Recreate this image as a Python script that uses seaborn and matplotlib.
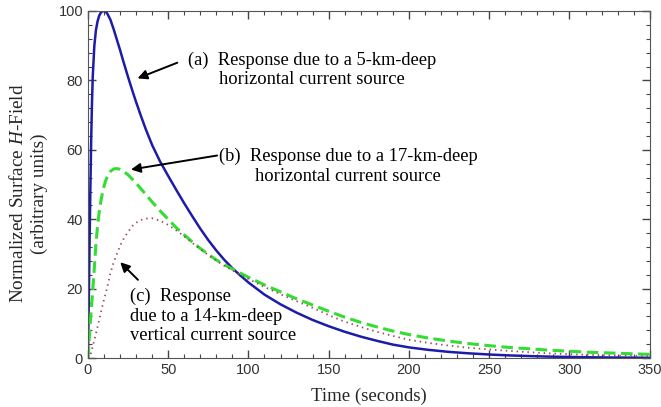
import numpy as np
import pandas as pd
import matplotlib
matplotlib.use("Agg")
import matplotlib.pyplot as plt
from matplotlib.ticker import MultipleLocator
import seaborn as sns

# values (time in seconds)
time_s = [0, 0.5, 1, 1.5, 2, 2.5, 3,
          4, 5, 6, 7, 8, 9, 10, 11, 12,
          14, 16, 18, 20, 22,
          25, 28, 30, 33, 36, 40,
          45, 50, 55, 60, 65, 70, 75, 80, 85, 90, 95, 100,
          110, 120, 130, 140, 150, 160, 170, 180, 190, 200,
          212, 225, 237, 250, 262, 275, 287, 300, 312, 325, 337, 350]
# (a) 5-km-deep horizontal source
resp_a = [0, 15, 32, 48, 62, 73, 81,
          90, 94.5, 97, 98.6, 99.5, 99.9, 100, 99.8, 99.3,
          97.5, 94.8, 91.8, 88.8, 85.6,
          81, 76.6, 73.8, 69.8, 66, 61.4,
          56.6, 52.5, 48.5, 44.6, 40.9, 37.3, 34, 31, 28.3, 25.9, 23.8, 21.8,
          18.3, 15.5, 13.1, 11.0, 9.2, 7.6, 6.2, 5.0, 3.9, 3.1,
          2.4, 1.8, 1.4, 1.05, 0.8, 0.6, 0.45, 0.35, 0.25, 0.2, 0.15, 0.1]
# (b) 17-km-deep horizontal source
resp_b = [0, 3, 7, 10.5, 13.5, 16.5, 19.5,
          26, 33, 38, 42, 45, 47.5, 49.5, 51, 52.2,
          53.8, 54.5, 54.6, 54.4, 53.9,
          52.8, 51.4, 50.4, 48.8, 47.2, 45,
          42.4, 40, 37.6, 35.5, 33.5, 31.6, 29.9, 28.3, 26.9, 25.7, 24.5, 23.3,
          21.1, 19.1, 17.1, 15.3, 13.5, 11.8, 10.3, 9.0, 7.8, 6.8,
          5.8, 4.9, 4.2, 3.6, 3.1, 2.7, 2.3, 2.0, 1.7, 1.5, 1.3, 1.1]
# (c) 14-km-deep vertical source
resp_c = [0, 0, 0.3, 0.8, 1.6, 2.5, 3.4,
          5.2, 7.1, 9, 11, 13, 14.9, 16.8, 18.6, 20.3,
          24.5, 27.5, 30, 32.3, 34.2,
          36.4, 38.2, 39, 39.8, 40.2, 40.3,
          39.6, 38.4, 36.8, 35.1, 33.2, 31.4, 29.7, 28.1, 26.6, 25.3, 24.0, 22.8,
          20.5, 18.4, 16.4, 14.5, 12.4, 10.5, 9.0, 7.6, 6.4, 5.3,
          4.4, 3.6, 3.0, 2.5, 2.1, 1.7, 1.4, 1.15, 0.95, 0.8, 0.65, 0.55]

df = pd.DataFrame({"t": time_s, "a": resp_a, "b": resp_b, "c": resp_c})

sns.set_style("ticks")
plt.rcParams["font.family"] = ["Liberation Serif", "DejaVu Serif"]
plt.rcParams["mathtext.fontset"] = "custom"
plt.rcParams["mathtext.rm"] = "Liberation Serif"
plt.rcParams["mathtext.it"] = "Liberation Serif:italic"

fig = plt.figure(figsize=(6.61, 4.07), dpi=100)
ax = fig.add_axes([0.133, 0.120, 0.850, 0.853])

sns.lineplot(data=df, x="t", y="a", ax=ax, color="#1c1ca8", lw=1.8)
sns.lineplot(data=df, x="t", y="b", ax=ax, color="#33dd33", lw=2.2)
sns.lineplot(data=df, x="t", y="c", ax=ax, color="#a04858", lw=1.3)
ax.lines[1].set_dashes([3.8, 1.8])
ax.lines[2].set_dashes([0.8, 2.2])

ax.set_xlim(0, 350)
ax.set_ylim(0, 100)
ax.xaxis.set_major_locator(MultipleLocator(50))
ax.xaxis.set_minor_locator(MultipleLocator(10))
ax.yaxis.set_major_locator(MultipleLocator(20))
ax.yaxis.set_minor_locator(MultipleLocator(4))
ax.tick_params(which="both", direction="in", top=True, right=True, color="#444444")
ax.tick_params(which="major", length=6, width=1)
ax.tick_params(which="minor", length=3, width=0.8)
for lab in ax.get_xticklabels() + ax.get_yticklabels():
    lab.set_family("Liberation Sans")
    lab.set_fontsize(10.5)
    lab.set_color("#333333")
for sp in ax.spines.values():
    sp.set_color("#555555")

ax.set_xlabel("Time (seconds)", fontsize=13.5)
ax.set_ylabel("Normalized Surface $\\mathit{H}$-Field\n(arbitrary units)", fontsize=13.8,
              linespacing=1.25)
ax.yaxis.set_label_coords(-0.071, 0.475)
ax.xaxis.set_label_coords(0.5, -0.085)

txt = dict(fontsize=13.3, color="black", linespacing=1.2)
arrow = dict(arrowstyle="-|>", color="black", lw=1.4, mutation_scale=14)

ax.text(139.7, 83.0, "(a)  Response due to a 5-km-deep\nhorizontal current source",
        ha="center", va="center", **txt)
ax.annotate("", xy=(29.3, 80.3), xytext=(57.3, 85.4), arrowprops=arrow)

ax.text(162.0, 55.2, "(b)  Response due to a 17-km-deep\nhorizontal current source",
        ha="center", va="center", **txt)
ax.annotate("", xy=(25.1, 54.2), xytext=(82.2, 58.5), arrowprops=arrow)

ax.text(26.0, 12.1, "(c)  Response\ndue to a 14-km-deep\nvertical current source",
        ha="left", va="center", **txt)
ax.annotate("", xy=(18.9, 28.2), xytext=(32.4, 22.0), arrowprops=arrow)

fig.savefig("out.png", dpi=100)
